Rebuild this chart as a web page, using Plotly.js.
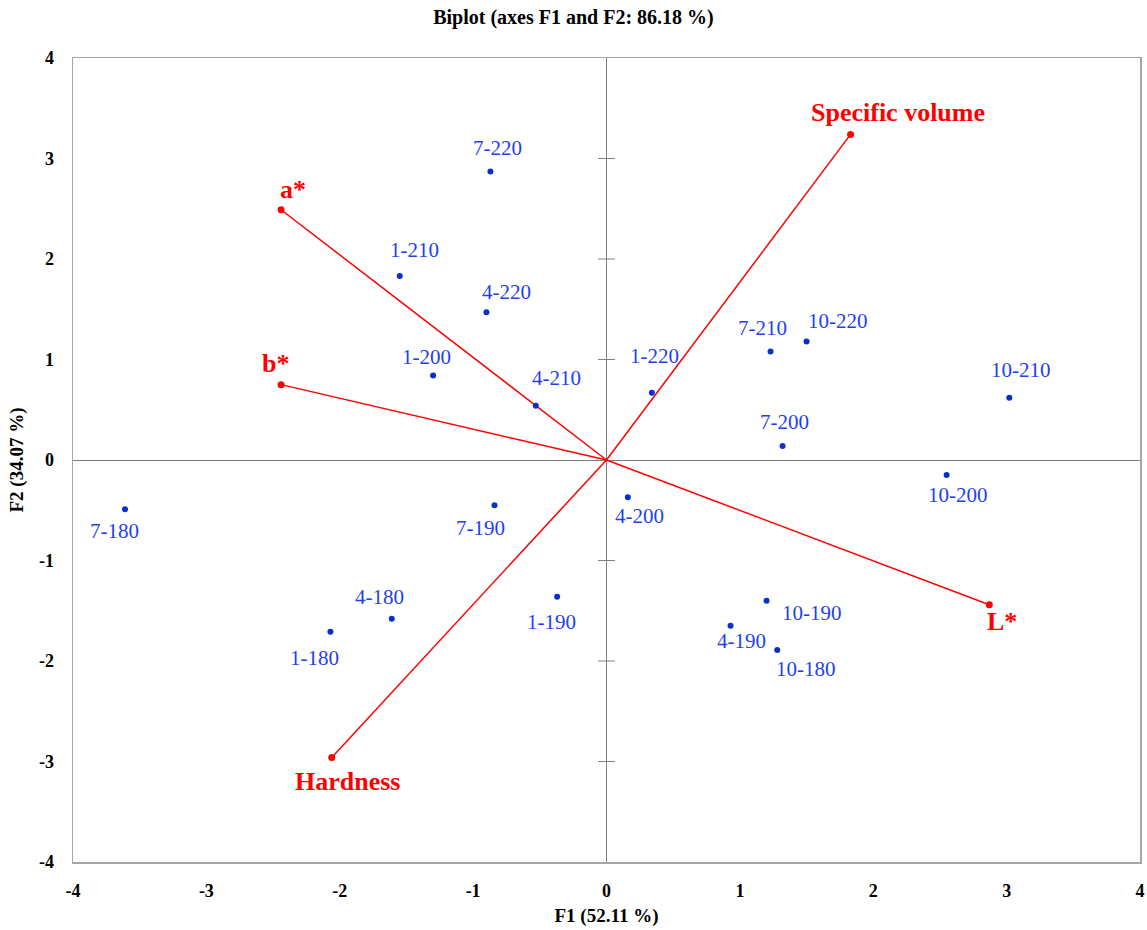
<!DOCTYPE html>
<html>
<head>
<meta charset="utf-8">
<script src="https://cdn.plot.ly/plotly-3.0.1.min.js"></script>
<style>html,body{margin:0;padding:0;background:#fff;}#chart{width:1147px;height:930px;}</style>
</head>
<body>
<div id="chart"></div>
<script>
// Observations (samples)
var obsLabels = ['7-180','7-220','1-210','4-220','1-200','4-210','1-220','7-210','10-220','10-210','7-200','10-200','4-200','7-190','1-190','4-180','1-180','4-190','10-190','10-180'];
var obsF1 = [-3.61,-0.87,-1.55,-0.90,-1.30,-0.53,0.34,1.23,1.50,3.02,1.32,2.55,0.16,-0.84,-0.37,-1.61,-2.07,0.93,1.20,1.28];
var obsF2 = [-0.49,2.87,1.83,1.47,0.84,0.54,0.67,1.08,1.18,0.62,0.14,-0.15,-0.37,-0.45,-1.36,-1.58,-1.71,-1.65,-1.40,-1.89];
// Variables (loadings)
var varLabels = ['Specific volume','a*','b*','Hardness','L*'];
var varF1 = [1.83,-2.44,-2.44,-2.06,2.87];
var varF2 = [3.24,2.49,0.75,-2.96,-1.44];
// Tick values
var tickVals = [-4,-3,-2,-1,0,1,2,3,4];

// label offsets (pixels) — styling only
var obsShift = [[-11,-22],[7,24],[15,26],[20,20],[-7,19],[21,28],[3,37],[-8,23],[31,20],[12,28],[2,24],[11,-20],[12,-19],[-14,-23],[-6,-25],[-12,22],[-16,-26],[11,-15],[45,-12],[29,-19]];
var varShift = [[47,22],[12,20],[-6,21],[16,-24],[13,-17]];

var FONT = 'Liberation Serif, Times New Roman, serif';
var BLUE_TXT = '#1f3ff0';
var BLUE_DOT = '#0a2fd0';
var RED = '#ff0000';

var traces = [];
// vector lines
var lx = [], ly = [];
for (var i = 0; i < varF1.length; i++) { lx.push(0, varF1[i], null); ly.push(0, varF2[i], null); }
traces.push({x: lx, y: ly, mode: 'lines', type: 'scatter', line: {color: RED, width: 1.5}, hoverinfo: 'skip', showlegend: false});
traces.push({x: varF1, y: varF2, mode: 'markers', type: 'scatter', marker: {color: RED, size: 7}, text: varLabels, showlegend: false});
// tick marks on the vertical zero line
var tk = tickVals.filter(function(v){ return v !== 0 && Math.abs(v) < 4; });
traces.push({x: tk.map(function(){return 0;}), y: tk, mode: 'markers', type: 'scatter',
  marker: {symbol: 'line-ew', size: 12, line: {color: '#808080', width: 1}}, hoverinfo: 'skip', showlegend: false});
// observations
traces.push({x: obsF1, y: obsF2, mode: 'markers', type: 'scatter', marker: {color: BLUE_DOT, size: 6}, text: obsLabels, showlegend: false});

var annotations = [];
for (var j = 0; j < obsLabels.length; j++) {
  annotations.push({x: obsF1[j], y: obsF2[j], xref: 'x', yref: 'y', text: obsLabels[j], showarrow: false,
    xshift: obsShift[j][0], yshift: obsShift[j][1], font: {family: FONT, size: 21, color: BLUE_TXT}});
}
for (var k = 0; k < varLabels.length; k++) {
  annotations.push({x: varF1[k], y: varF2[k], xref: 'x', yref: 'y', text: '<b>' + varLabels[k] + '</b>', showarrow: false,
    xshift: varShift[k][0], yshift: varShift[k][1], font: {family: FONT, size: 26, color: RED}});
}

var layout = {
  width: 1147, height: 930,
  margin: {l: 73, r: 7, t: 58, b: 68},
  paper_bgcolor: '#fff', plot_bgcolor: '#fff',
  title: {text: '<b>Biplot (axes F1 and F2: 86.18 %)</b>', x: 0.5, xref: 'container', y: 0.982, yanchor: 'middle',
    font: {family: FONT, size: 20, color: '#000'}},
  xaxis: {range: [-4, 4], tickvals: tickVals, ticktext: tickVals.map(String), showgrid: false,
    zeroline: true, zerolinecolor: '#7f7f7f', zerolinewidth: 1,
    showline: true, mirror: true, linecolor: '#a6a6a6', linewidth: 1.5, ticks: '', ticklen: 0,
    ticklabelstandoff: 12,
    tickfont: {family: FONT, size: 18, color: '#000', weight: 'bold'},
    title: {text: '<b>F1 (52.11 %)</b>', font: {family: FONT, size: 19, color: '#000'}, standoff: 8}},
  yaxis: {range: [-4, 4], tickvals: tickVals, ticktext: tickVals.map(String), showgrid: false,
    zeroline: true, zerolinecolor: '#7f7f7f', zerolinewidth: 1,
    showline: true, mirror: true, linecolor: '#a6a6a6', linewidth: 1.5, ticks: '', ticklen: 0,
    ticklabelstandoff: 14,
    tickfont: {family: FONT, size: 18, color: '#000', weight: 'bold'},
    title: {text: '<b>F2 (34.07 %)</b>', font: {family: FONT, size: 19, color: '#000'}, standoff: 10}},
  annotations: annotations,
  showlegend: false
};

Plotly.newPlot('chart', traces, layout, {displayModeBar: false, staticPlot: true});
</script>
</body>
</html>
